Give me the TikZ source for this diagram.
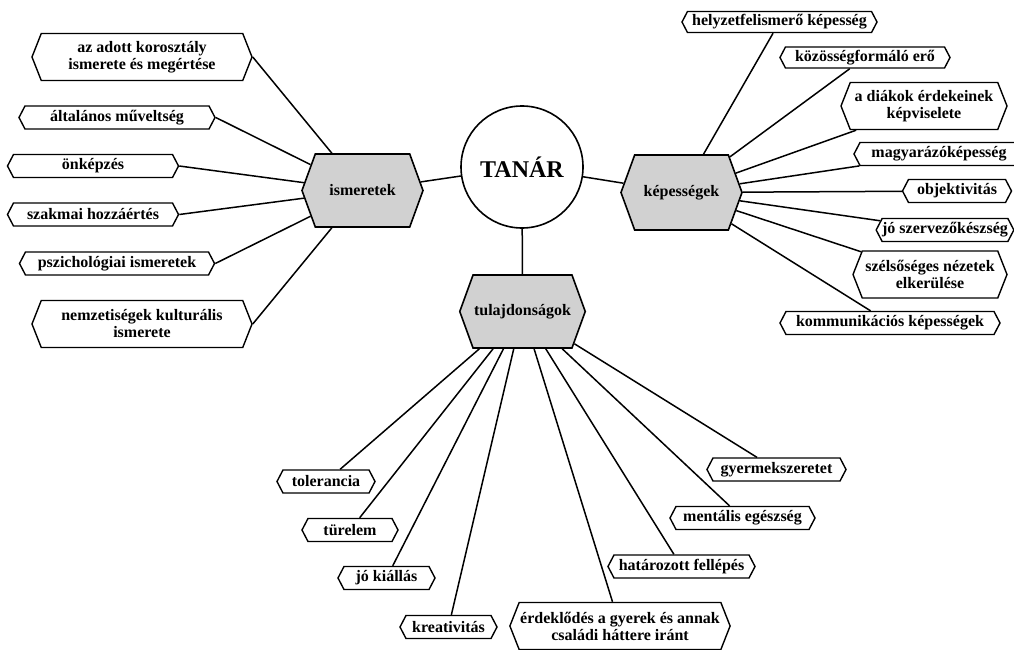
\documentclass[tikz,border=0pt]{standalone}
\usepackage{fontspec}
\setmainfont{Liberation Serif}
\usetikzlibrary{shapes.symbols,backgrounds}
\tikzset{
  x=1pt, y=-1pt,
  lf/.style={font=\bfseries\fontsize{16}{17}\selectfont},
  leaf/.style={signal, signal to=west and east, signal pointer angle=125,
    draw, fill=white, line width=1.4pt, lf, align=center,
    inner xsep=1pt, inner ysep=1pt, minimum height=23pt},
  leaftwo/.style={leaf, signal pointer angle=137, minimum height=47pt},
  hub/.style={signal, signal to=west and east, signal pointer angle=140,
    draw, fill=black!18, line width=1.6pt, lf, inner xsep=1pt,
    minimum width=121pt, minimum height=73pt},
  conn/.style={line width=1.5pt},
}
\begin{document}
\begin{tikzpicture}
\useasboundingbox (0,0) rectangle (1014,650);
% centre
\node[circle, draw, fill=white, line width=1.6pt, minimum size=122pt,
  font=\bfseries\fontsize{24}{26}\selectfont] (tanar) at (522,167) {TANÁR};
% hubs
\node[hub] (ism) at (362.5,190.5) {ismeretek};
\node[hub, minimum height=75pt] (kep) at (681.5,192.5) {képességek};
\node[hub] (tul) at (522.5,311.5) {tulajdonságok};
% left leaves
\node[leaftwo, minimum width=220pt] (l1) at (142,57) {az adott korosztály\\ismerete és megértése};
\node[leaf, minimum width=196pt] (l2) at (117,117.5) {általános műveltség};
\node[leaf, minimum width=171pt] (l3) at (93,166) {önképzés};
\node[leaf, minimum width=171pt] (l4) at (93,214.5) {szakmai hozzáértés};
\node[leaf, minimum width=195pt] (l5) at (117,263.5) {pszichológiai ismeretek};
\node[leaftwo, minimum width=220pt] (l6) at (142,324) {nemzetiségek kulturális\\ismerete};
% right leaves
\node[leaf, minimum width=195pt, minimum height=21pt] (r1) at (779.5,22) {helyzetfelismerő képesség};
\node[leaf, minimum width=170pt, minimum height=21pt] (r2) at (865,57.5) {közösségformáló erő};
\node[leaftwo, minimum width=166pt] (r3) at (924,106) {a diákok érdekeinek\\képviselete};
\node[leaf, minimum width=170pt] (r4) at (939,154) {magyarázóképesség};
\node[leaf, minimum width=109pt] (r5) at (957,191) {objektivitás};
\node[leaf, minimum width=136pt, inner xsep=0pt] (r6) at (945,230) {jó szervezőkészség};
\node[leaftwo, minimum width=154pt] (r7) at (930,274.5) {szélsőséges nézetek\\elkerülése};
\node[leaf, minimum width=220pt] (r8) at (890,323) {kommunikációs képességek};
% bottom leaves
\node[leaf, minimum width=98pt] (b1) at (326,481.5) {tolerancia};
\node[leaf, minimum width=96pt] (b2) at (350,530) {türelem};
\node[leaf, minimum width=97pt] (b3) at (386.5,578) {jó kiállás};
\node[leaf, minimum width=97pt] (b4) at (448.5,627) {kreativitás};
\node[leaftwo, minimum width=220pt] (b5) at (620,626) {érdeklődés a gyerek és annak\\családi háttere iránt};
\node[leaf, minimum width=147pt] (b6) at (681.5,566.5) {határozott fellépés};
\node[leaf, minimum width=145pt] (b7) at (742.5,518) {mentális egészség};
\node[leaf, minimum width=139pt] (b8) at (776.5,469.5) {gyermekszeretet};
% connectors
\begin{scope}[on background layer]
\draw[conn] (tanar) -- (ism);
\draw[conn] (tanar) -- (kep);
\draw[conn] (tanar) -- (tul);
\foreach \n in {l1,l2,l3,l4,l5,l6} \draw[conn] (ism) -- (\n.east);
\foreach \n in {r1,r2,r3,r4,r5,r6,r7,r8} \draw[conn] (kep) -- (\n);
\foreach \n in {b1,b2,b3,b4,b5,b6,b7,b8} \draw[conn] (tul) -- (\n);
\end{scope}
\end{tikzpicture}
\end{document}
